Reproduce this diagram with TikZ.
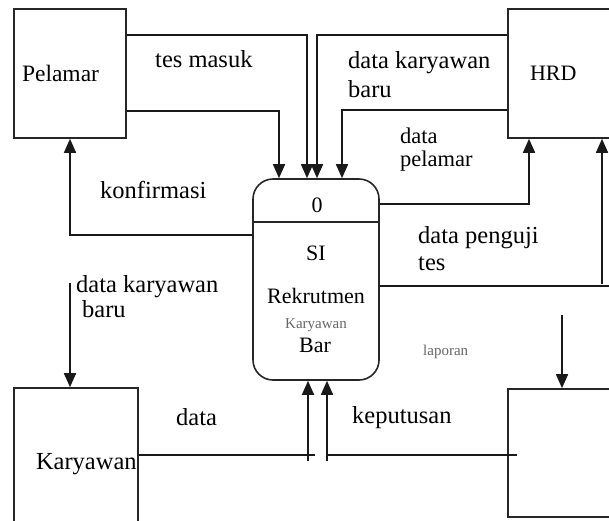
\documentclass[tikz,border=0pt]{standalone}
\usepackage{fontspec}
\setmainfont{Liberation Serif}
\usetikzlibrary{arrows.meta}
\begin{document}
\begin{tikzpicture}[x=1pt,y=-1pt,
  big/.style={font=\fontsize{24.5}{28}\selectfont},
  mid/.style={font=\fontsize{22}{26}\selectfont},
  small/.style={font=\fontsize{15}{17}\selectfont,text=black!60},
  ent/.style={draw=black!85,line width=1.6pt,inner sep=0pt,align=left},
  conn/.style={line width=1.6pt,draw=black!90},
  arr/.style={conn,-{Triangle[width=12pt,length=14pt]}},
  lab/.style={big,anchor=base west,inner sep=0pt},
  ptxt/.style={mid,anchor=base,inner sep=0pt}]
\clip (0,0) rectangle (609,520);
% entities
\node[ent,font=\fontsize{23.5}{28}\selectfont,minimum width=112pt,minimum height=129pt,text width=96pt] (pel) at (70,73.5) {Pelamar};
\node[ent,mid,minimum width=117pt,minimum height=129pt,text width=73pt] (hrd) at (566.5,73.5) {HRD};
\node[ent,font=\fontsize{24.5}{28}\selectfont,minimum width=124pt,minimum height=152pt,text width=80pt] (kar) at (76,464) {Karyawan};
\node[ent,minimum width=117pt,minimum height=128pt] (box4) at (566.5,453) {};
% process
\node[draw=black!85,line width=1.6pt,rounded corners=20pt,minimum width=126pt,minimum height=201pt,inner sep=0pt] (proc) at (316,279.5) {};
\draw[line width=1.4pt,black!85] (proc.west|-0,222) -- (proc.east|-0,222);
\node[ptxt] (p0) at (317,212) {0};
\node[ptxt] (psi) at (316,260) {SI};
\node[ptxt] (prek) at (316,303) {Rekrutmen};
\node[small,anchor=base,inner sep=0pt] (pkar) at (316,328) {Karyawan};
\node[ptxt] (pbar) at (315,352) {Bar};
% free ends
\coordinate (re) at (620,286);
\coordinate (tj) at (602,284);
\coordinate (lap) at (562,315);
\coordinate (dkb) at (70,283);
\coordinate (d1) at (315,455);
\coordinate (v1) at (308,461);
\coordinate (d2) at (517,455);
\coordinate (d3) at (327,455);
\coordinate (v2) at (327,461);
% connectors
\draw[arr] (pel.east|-0,35) -| (proc.north-|307,0);
\draw[arr] (pel.east|-0,111) -| (proc.north-|279,0);
\draw[arr] (hrd.west|-0,35) -| (proc.north-|317,0);
\draw[arr] (hrd.west|-0,110) -| (proc.north-|342,0);
\draw[arr] (proc.west|-0,235) -| (pel.south);
\draw[arr] (proc.east|-0,204) -| (hrd.south-|529,0);
\draw[conn] (proc.east|-0,286) -- (re);
\draw[arr] (tj) -- (hrd.south-|602,0);
\draw[arr] (lap) -- (box4.north-|562,0);
\draw[arr] (dkb) -- (kar.north-|70,0);
\draw[conn] (kar.east|-0,455) -- (d1);
\draw[arr] (v1) -- (proc.south-|308,0);
\draw[conn] (d2) -- (d3);
\draw[arr] (v2) -- (proc.south-|327,0);
% labels
\node[lab] (l1) at (155,67) {tes masuk};
\node[lab] (l2) at (348,68) {data karyawan};
\node[lab] (l2b) at (348,97) {baru};
\node[lab,font=\fontsize{22.5}{26}\selectfont] (l3) at (400,143) {data};
\node[lab,font=\fontsize{22.5}{26}\selectfont] (l3b) at (400,166) {pelamar};
\node[lab] (l4) at (100,198) {konfirmasi};
\node[lab] (l5) at (418,243) {data penguji};
\node[lab] (l5b) at (418,270) {tes};
\node[lab] (l6) at (76,292) {data karyawan};
\node[lab] (l6b) at (82,317) {baru};
\node[lab] (l7) at (176,425) {data};
\node[lab] (l8) at (352,423) {keputusan};
\node[small,anchor=base west,inner sep=0pt] (l9) at (423,355) {laporan};
\end{tikzpicture}
\end{document}
